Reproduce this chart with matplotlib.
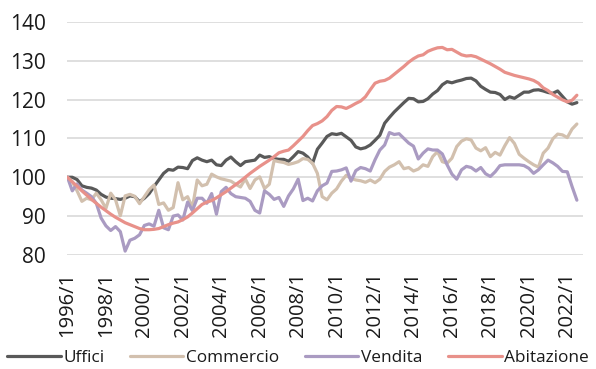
import matplotlib
matplotlib.use("Agg")
import matplotlib.pyplot as plt
import numpy as np

plt.rcParams['font.family'] = ['Open Sans', 'DejaVu Sans']

# Quarterly index values, 1996/1 = 100
years = list(range(1996, 2023))
quarters = [f"{y}/{q}" for y in years for q in (1, 2, 3, 4)][:107]

uffici = [
    100.0, 100.0, 99.4, 97.8, 97.4, 97.2, 96.7, 95.6, 94.9, 94.6,
    94.5, 94.3, 94.6, 95.2, 95.0, 93.7, 94.6, 95.8, 97.6, 99.3,
    101.0, 102.0, 101.8, 102.6, 102.5, 102.2, 104.3, 105.0, 104.4, 104.0,
    104.4, 103.2, 103.0, 104.4, 105.2, 104.0, 103.0, 104.0, 104.2, 104.4,
    105.7, 105.1, 105.3, 104.8, 104.6, 104.6, 104.1, 105.3, 106.6, 106.2,
    105.2, 103.6, 107.2, 108.8, 110.5, 111.2, 111.0, 111.3, 110.4, 109.5,
    107.8, 107.3, 107.6, 108.3, 109.5, 110.8, 113.9, 115.4, 116.8, 118.0,
    119.2, 120.3, 120.2, 119.4, 119.5, 120.2, 121.4, 122.3, 123.8, 124.6,
    124.3, 124.7, 125.0, 125.4, 125.5, 124.8, 123.4, 122.6, 121.9, 121.8,
    121.3, 120.0, 120.7, 120.3, 121.1, 121.9, 121.9, 122.4, 122.5, 122.2,
    121.8, 121.6, 122.2, 120.8, 119.4, 118.8, 119.2,
]

commercio = [
    100.0, 98.9, 96.5, 93.8, 94.6, 94.2, 95.9, 94.2, 92.0, 95.9,
    94.2, 90.1, 95.2, 95.6, 95.1, 93.2, 95.0, 96.8, 98.0, 93.0,
    93.4, 91.5, 92.2, 98.6, 94.2, 95.0, 92.2, 99.3, 97.8, 98.2,
    100.8, 100.1, 99.6, 99.3, 99.0, 98.2, 97.5, 99.6, 97.1, 99.3,
    100.1, 97.1, 98.2, 104.3, 104.0, 103.8, 103.3, 103.6, 104.0, 104.8,
    104.6, 103.6, 101.0, 95.0, 94.2, 95.9, 97.0, 99.0, 100.5, 99.7,
    99.3, 99.1, 98.7, 99.3, 98.6, 99.5, 101.5, 102.6, 103.2, 104.0,
    102.2, 102.5, 101.6, 102.1, 103.2, 102.8, 105.3, 106.6, 104.0, 103.6,
    104.9, 107.9, 109.3, 109.9, 109.6, 107.5, 106.8, 107.6, 105.3, 106.4,
    105.7, 108.1, 110.2, 108.7, 105.9, 104.9, 104.0, 103.2, 102.6, 106.2,
    107.5, 109.9, 111.1, 110.9, 110.2, 112.4, 113.7,
]

vendita = [
    100.0, 96.5, 98.3, 96.7, 95.9, 95.0, 93.3, 89.5, 87.5, 86.3,
    87.3, 86.0, 81.0, 83.8, 84.3, 85.2, 87.6, 88.0, 87.4, 91.5,
    87.0, 86.5, 90.0, 90.3, 89.0, 93.6, 91.4, 94.6, 94.6, 93.3,
    95.8, 90.5, 96.3, 97.4, 95.8, 95.0, 94.8, 94.6, 93.8, 91.5,
    90.8, 96.5, 95.6, 94.3, 94.8, 92.5, 95.2, 97.0, 99.5, 94.0,
    94.6, 93.9, 96.5, 97.8, 98.5, 101.5, 101.6, 101.9, 102.4, 99.0,
    101.7, 102.5, 102.2, 101.6, 104.5, 107.0, 108.3, 111.5, 111.0, 111.2,
    110.0, 108.8, 108.0, 104.7, 106.2, 107.3, 107.0, 107.0, 106.0, 103.2,
    100.8, 99.5, 101.9, 102.8, 102.5, 101.6, 102.5, 100.9, 100.2, 101.4,
    103.0, 103.2, 103.2, 103.2, 103.2, 103.0, 102.3, 101.0, 101.9, 103.2,
    104.4, 103.7, 102.8, 101.5, 101.4, 97.6, 94.1,
]

abitazione = [
    100.0, 98.8, 97.7, 96.5, 95.4, 94.3, 93.3, 92.3, 91.4, 90.5,
    89.7, 89.0, 88.3, 87.8, 87.3, 86.8, 86.5, 86.5, 86.6, 86.8,
    87.3, 87.8, 88.2, 88.5, 89.1, 89.8, 90.8, 91.9, 93.0, 93.6,
    94.0, 94.7, 95.5, 96.3, 97.2, 98.1, 99.0, 100.0, 101.0, 101.9,
    102.8, 103.6, 104.4, 105.3, 106.3, 106.7, 107.0, 108.1, 109.3, 110.5,
    112.0, 113.3, 113.8, 114.5, 115.6, 117.2, 118.2, 118.1, 117.7, 118.3,
    119.0, 119.6, 120.7, 122.5, 124.2, 124.7, 124.9, 125.5, 126.5, 127.5,
    128.5, 129.6, 130.5, 131.2, 131.5, 132.4, 132.9, 133.3, 133.4, 132.8,
    132.9, 132.2, 131.5, 131.2, 131.3, 131.0, 130.4, 129.8, 129.2, 128.5,
    127.8, 127.0, 126.6, 126.2, 125.9, 125.6, 125.3, 124.9, 124.2, 123.0,
    122.3, 121.3, 120.6, 119.9, 119.4, 119.8, 121.1,
]

series = [
    ("Uffici", uffici, "#595959"),
    ("Commercio", commercio, "#D2C0AE"),
    ("Vendita", vendita, "#AA9BC2"),
    ("Abitazione", abitazione, "#E8918A"),
]

fig = plt.figure(figsize=(5.96, 3.69), dpi=100)
ax = fig.add_axes([0.1124, 0.309, 0.866, 0.632])

x = np.arange(len(quarters))
for name, vals, color in series:
    ax.plot(x, vals, color=color, lw=2.3, label=name,
            solid_joinstyle="round", solid_capstyle="round")

ax.set_ylim(80, 140)
ax.set_yticks(np.arange(80, 141, 10))
ax.set_xlim(-0.1, 107.3)
tick_pos = [i for i, q in enumerate(quarters) if q.endswith("/1") and int(q[:4]) % 2 == 0]
ax.set_xticks(tick_pos)
ax.set_xticklabels([quarters[i] for i in tick_pos], rotation=90)

ax.grid(axis="y", color="#D9D9D9", lw=1.2)
ax.set_axisbelow(True)
for s in ax.spines.values():
    s.set_visible(False)
ax.tick_params(axis="y", length=0, pad=15, labelsize=15, colors="#1a1a1a")
ax.tick_params(axis="x", length=0, pad=12, labelsize=14.5, colors="#1a1a1a")

leg = fig.legend(loc="center", bbox_to_anchor=(0.5, 0.03), ncol=4, frameon=False,
                 fontsize=12.4, handlelength=3.1, handletextpad=0.15,
                 columnspacing=1.5, borderaxespad=0)
for t in leg.get_texts():
    t.set_color("#1a1a1a")

fig.savefig("out.png", dpi=100)
